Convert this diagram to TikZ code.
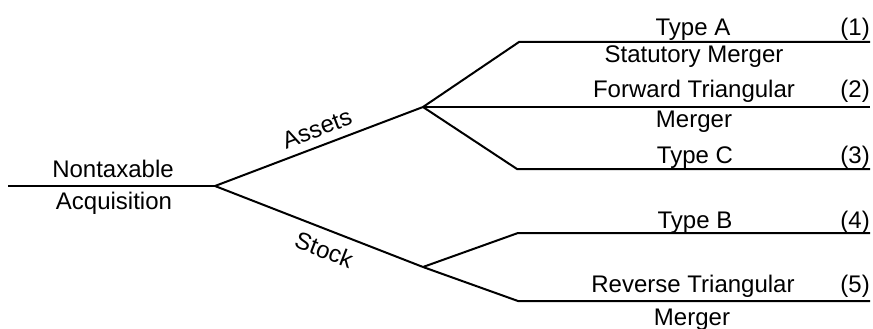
\documentclass[tikz,border=0pt]{standalone}
\usepackage{fontspec}
\setmainfont{Liberation Sans}
\begin{document}
\begin{tikzpicture}[x={(1pt,0)},y={(0,-1pt)},
  branch/.style={line width=2pt,line join=miter},
  lbl/.style={inner sep=0pt,anchor=base,font=\fontsize{24}{28}\selectfont},
  num/.style={inner sep=0pt,anchor=base east,font=\fontsize{24}{28}\selectfont},
  slopelbl/.style={sloped,inner sep=0pt,font=\fontsize{24}{28}\selectfont}]
\useasboundingbox (0,0) rectangle (873,329);
% junction coordinates
\coordinate (r0) at (8,186);
\coordinate (r1) at (215,186);
\coordinate (aj) at (423,107);
\coordinate (sj) at (423,267);
\coordinate (a1s) at (519,42);  \coordinate (a1e) at (870,42);
\coordinate (a2e) at (870,107);
\coordinate (a3s) at (517,169); \coordinate (a3e) at (870,169);
\coordinate (s1s) at (518,233); \coordinate (s1e) at (870,233);
\coordinate (s2s) at (518,301); \coordinate (s2e) at (870,301);
% branches
\draw[branch] (r0) -- (r1);
\draw[branch] (r1) -- node[slopelbl,pos=0.52,above=8pt] (assets) {Assets} (aj);
\draw[branch] (r1) -- node[slopelbl,pos=0.56,below=10pt] (stock) {Stock} (sj);
\draw[branch] (aj) -- (a1s) -- (a1e);
\draw[branch] (aj) -- (a2e);
\draw[branch] (aj) -- (a3s) -- (a3e);
\draw[branch] (sj) -- (s1s) -- (s1e);
\draw[branch] (sj) -- (s2s) -- (s2e);
% labels
\node[lbl] (non) at (113,177) {Nontaxable};
\node[lbl] (acq) at (114,209) {Acquisition};
\node[lbl] (ta) at (693,36) {Type A};
\node[lbl] (sm) at (694,63) {Statutory Merger};
\node[lbl] (ft) at (694,98) {Forward Triangular};
\node[lbl] (m1) at (694,128) {Merger};
\node[lbl] (tc) at (695,163) {Type C};
\node[lbl] (tb) at (695,228) {Type B};
\node[lbl] (rt) at (693,292) {Reverse Triangular};
\node[lbl] (m2) at (692,325) {Merger};
\node[num] (n1) at (870,36) {(1)};
\node[num] (n2) at (870,98) {(2)};
\node[num] (n3) at (870,163) {(3)};
\node[num] (n4) at (870,228) {(4)};
\node[num] (n5) at (870,292) {(5)};
\end{tikzpicture}
\end{document}
